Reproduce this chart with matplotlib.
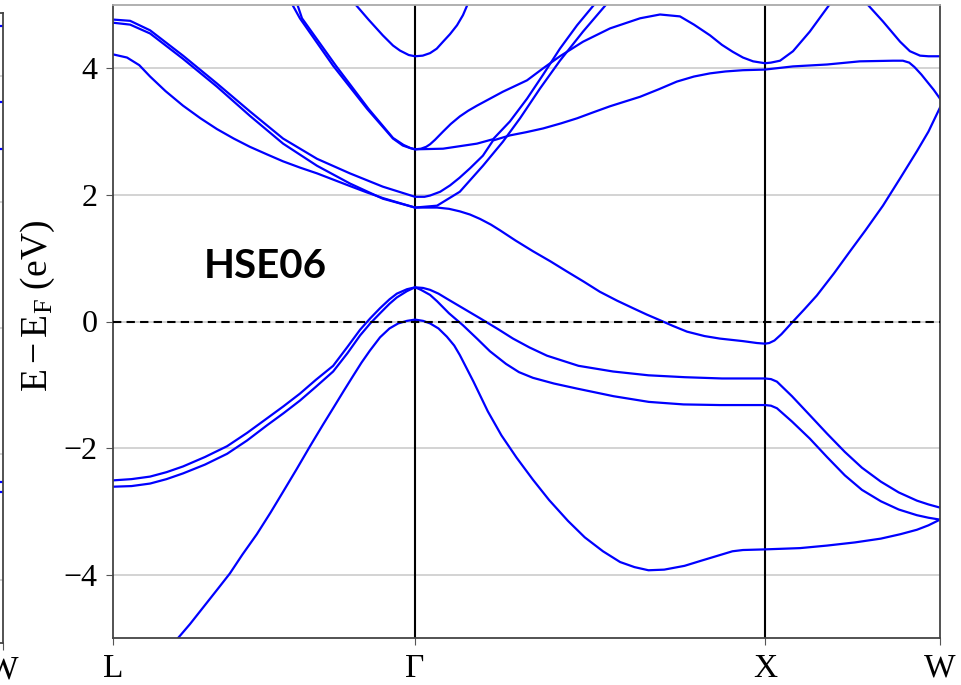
import matplotlib
matplotlib.use("Agg")
import matplotlib.pyplot as plt

plt.rcParams['font.family'] = 'Liberation Serif'
plt.rcParams['mathtext.fontset'] = 'custom'
plt.rcParams['mathtext.rm'] = 'Liberation Serif'
plt.rcParams['mathtext.it'] = 'Liberation Serif:italic'

# high-symmetry points along the path (units of 2pi/a)
kpath_labels = ['L', 'Γ', 'X', 'W']
kpath_pos = [0.0, 0.863, 1.863, 2.363]

# valence bands
k_v1 = [0.15, 0.186, 0.22, 0.26, 0.3, 0.334, 0.37, 0.411, 0.45, 0.486, 0.525, 0.563, 0.6, 0.629, 0.66,
        0.686, 0.71, 0.734, 0.763, 0.79, 0.815, 0.84, 0.863, 0.886, 0.906, 0.93, 0.954, 0.975, 0.991,
        1.03, 1.071, 1.11, 1.153, 1.2, 1.246, 1.3, 1.348, 1.4, 1.449, 1.49, 1.53, 1.575, 1.633, 1.68,
        1.734, 1.77, 1.8, 1.863, 1.963, 2.04, 2.12, 2.194, 2.25, 2.297, 2.33, 2.363]
e_v1 = [-5.25, -5.0, -4.78, -4.50, -4.22, -3.98, -3.68, -3.36, -3.02, -2.69, -2.33, -1.97, -1.63, -1.37,
        -1.09, -0.86, -0.65, -0.46, -0.25, -0.11, -0.03, 0.01, 0.03, 0.01, -0.03, -0.11, -0.24, -0.38,
        -0.53, -0.95, -1.42, -1.80, -2.15, -2.50, -2.82, -3.15, -3.41, -3.63, -3.80, -3.88, -3.93,
        -3.92, -3.86, -3.78, -3.69, -3.63, -3.61, -3.60, -3.58, -3.54, -3.49, -3.43, -3.36, -3.29,
        -3.22, -3.13]

k_v2 = [0.0, 0.053, 0.106, 0.153, 0.2, 0.263, 0.326, 0.383, 0.44, 0.487, 0.534, 0.58, 0.629, 0.67,
        0.706, 0.735, 0.763, 0.79, 0.811, 0.84, 0.863, 0.886, 0.906, 0.93, 0.954, 1.0, 1.049, 1.1,
        1.143, 1.19, 1.24, 1.33, 1.429, 1.53, 1.634, 1.74, 1.837, 1.863, 1.88, 1.897, 1.94, 1.991,
        2.04, 2.091, 2.14, 2.194, 2.245, 2.297, 2.33, 2.363]
e_v2 = [-2.51, -2.49, -2.45, -2.38, -2.29, -2.14, -1.97, -1.76, -1.53, -1.34, -1.14, -0.92, -0.70, -0.40,
        -0.13, 0.05, 0.21, 0.35, 0.44, 0.51, 0.54, 0.53, 0.50, 0.44, 0.36, 0.21, 0.05, -0.12,
        -0.27, -0.41, -0.54, -0.70, -0.79, -0.85, -0.88, -0.90, -0.90, -0.90, -0.91, -0.95, -1.18, -1.48,
        -1.77, -2.06, -2.31, -2.53, -2.70, -2.83, -2.89, -2.94]

k_v3 = [0.0, 0.053, 0.106, 0.153, 0.2, 0.263, 0.326, 0.383, 0.44, 0.487, 0.534, 0.58, 0.629, 0.67,
        0.706, 0.735, 0.763, 0.79, 0.811, 0.84, 0.863, 0.88, 0.906, 0.926, 0.96, 1.0, 1.04, 1.077,
        1.123, 1.16, 1.2, 1.26, 1.326, 1.43, 1.531, 1.63, 1.734, 1.863, 1.88, 1.897, 1.94, 1.991,
        2.04, 2.091, 2.14, 2.194, 2.245, 2.297, 2.33, 2.363]
e_v3 = [-2.61, -2.60, -2.56, -2.49, -2.40, -2.26, -2.09, -1.88, -1.64, -1.45, -1.25, -1.03, -0.79, -0.50,
        -0.22, -0.03, 0.13, 0.28, 0.38, 0.48, 0.54, 0.50, 0.42, 0.32, 0.13, -0.06, -0.27, -0.47,
        -0.67, -0.80, -0.89, -0.98, -1.06, -1.18, -1.27, -1.31, -1.32, -1.32, -1.33, -1.37, -1.58, -1.85,
        -2.14, -2.43, -2.66, -2.84, -2.97, -3.06, -3.10, -3.13]

# conduction bands
k_c1 = [0.0, 0.04, 0.075, 0.106, 0.15, 0.2, 0.25, 0.297, 0.345, 0.391, 0.44, 0.486, 0.535, 0.583,
        0.63, 0.677, 0.725, 0.771, 0.82, 0.863, 0.9, 0.926, 0.96, 0.991, 1.02, 1.049, 1.08, 1.106,
        1.15, 1.2, 1.25, 1.297, 1.345, 1.391, 1.44, 1.486, 1.525, 1.563, 1.6, 1.64, 1.69, 1.734,
        1.8, 1.84, 1.863, 1.875, 1.89, 1.91, 1.943, 1.975, 2.011, 2.06, 2.106, 2.15, 2.2, 2.25,
        2.297, 2.33, 2.363]
e_c1 = [4.22, 4.17, 4.05, 3.87, 3.64, 3.41, 3.21, 3.04, 2.89, 2.76, 2.64, 2.53, 2.43, 2.34,
        2.24, 2.14, 2.04, 1.95, 1.87, 1.80, 1.80, 1.80, 1.78, 1.74, 1.69, 1.62, 1.53, 1.44,
        1.28, 1.11, 0.95, 0.79, 0.63, 0.47, 0.33, 0.21, 0.11, 0.02, -0.07, -0.16, -0.23, -0.27,
        -0.31, -0.34, -0.35, -0.34, -0.30, -0.20, 0.0, 0.19, 0.41, 0.76, 1.11, 1.44, 1.83, 2.27,
        2.69, 3.0, 3.38]

k_c2 = [0.0, 0.049, 0.106, 0.2, 0.297, 0.391, 0.486, 0.583, 0.677, 0.771, 0.863, 0.89, 0.906, 0.935,
        0.963, 0.99, 1.02, 1.057, 1.086, 1.134, 1.18, 1.229, 1.28, 1.326, 1.37, 1.42, 1.46, 1.506,
        1.56, 1.611, 1.66, 1.706, 1.75, 1.8, 1.863, 1.943, 2.04, 2.134, 2.229, 2.257, 2.275, 2.29,
        2.31, 2.326, 2.345, 2.363]
e_c2 = [4.77, 4.75, 4.60, 4.20, 3.76, 3.32, 2.89, 2.57, 2.34, 2.13, 1.97, 1.97, 1.99, 2.05,
        2.15, 2.27, 2.42, 2.62, 2.86, 2.94, 2.99, 3.05, 3.13, 3.21, 3.30, 3.40, 3.47, 3.55,
        3.67, 3.79, 3.87, 3.92, 3.95, 3.97, 3.98, 4.03, 4.06, 4.11, 4.12, 4.12, 4.09, 4.02,
        3.90, 3.79, 3.66, 3.52]

k_c3 = [0.0, 0.049, 0.106, 0.2, 0.297, 0.391, 0.486, 0.583, 0.677, 0.771, 0.863, 0.926, 0.991, 1.057,
        1.114, 1.163, 1.22, 1.277, 1.343, 1.411, 1.45]
e_c3 = [4.72, 4.69, 4.55, 4.15, 3.71, 3.25, 2.81, 2.46, 2.18, 1.94, 1.80, 1.83, 2.05, 2.46,
        2.84, 3.21, 3.68, 4.12, 4.58, 5.02, 5.3]

k_c4 = [0.505, 0.526, 0.54, 0.637, 0.73, 0.8, 0.83, 0.85, 0.863, 0.943, 1.04, 1.086, 1.134, 1.183,
        1.229, 1.277, 1.326, 1.377, 1.41]
e_c4 = [5.3, 5.02, 4.79, 4.04, 3.36, 2.90, 2.79, 2.74, 2.72, 2.73, 2.81, 2.88, 3.16, 3.52,
        3.90, 4.31, 4.68, 5.02, 5.3]

k_c5 = [0.49, 0.511, 0.534, 0.629, 0.726, 0.8, 0.828, 0.849, 0.863, 0.88, 0.895, 0.906, 0.92, 0.943,
        0.965, 0.991, 1.015, 1.04, 1.114, 1.183, 1.229, 1.277, 1.343, 1.42, 1.506, 1.563, 1.62, 1.66,
        1.706, 1.74, 1.771, 1.8, 1.829, 1.863, 1.88, 1.906, 1.943, 1.991, 2.049, 2.08]
e_c5 = [5.3, 5.02, 4.79, 4.04, 3.36, 2.89, 2.78, 2.74, 2.72, 2.73, 2.76, 2.80, 2.87, 3.0,
        3.12, 3.24, 3.33, 3.41, 3.63, 3.81, 4.0, 4.19, 4.42, 4.63, 4.79, 4.85, 4.82, 4.69,
        4.52, 4.37, 4.26, 4.17, 4.11, 4.08, 4.09, 4.12, 4.27, 4.58, 5.02, 5.3]

k_c6 = [0.67, 0.691, 0.73, 0.771, 0.8, 0.82, 0.845, 0.863, 0.885, 0.906, 0.925, 0.943, 0.963, 0.983,
        1.0, 1.014, 1.03]
e_c6 = [5.35, 5.02, 4.77, 4.52, 4.36, 4.28, 4.21, 4.19, 4.20, 4.24, 4.31, 4.42, 4.54, 4.68,
        4.84, 5.02, 5.3]

k_c7 = [2.14, 2.154, 2.2, 2.249, 2.277, 2.306, 2.33, 2.363]
e_c7 = [5.3, 5.02, 4.74, 4.42, 4.27, 4.20, 4.19, 4.19]

bands = [(k_v1, e_v1), (k_v2, e_v2), (k_v3, e_v3), (k_c1, e_c1), (k_c2, e_c2),
         (k_c3, e_c3), (k_c4, e_c4), (k_c5, e_c5), (k_c6, e_c6), (k_c7, e_c7)]

# neighbouring panel, only its W end shows
side_k = [0.9, 1.0]
side_levels = [4.79, 3.59, 2.84, -2.44, -2.60]

fig = plt.figure(figsize=(9.61, 6.85), dpi=100)

# neighbouring panel
axs = fig.add_axes([-0.9, 0.0613, 0.9031, 0.9197])
axs.set_xlim(0, 1)
axs.set_ylim(-5, 5)
axs.set_yticks([-4, -2, 0, 2, 4])
axs.set_yticklabels([])
axs.grid(axis='y', color='#c8c8c8', lw=1.1)
for lev in side_levels:
    axs.plot(side_k, [lev, lev], color='blue', lw=1.6)
axs.set_xticks([1.0])
axs.set_xticklabels(['W'], fontsize=24)
axs.tick_params(length=5, color='#555555')
for s in axs.spines.values():
    s.set_color('#444444')
    s.set_linewidth(1.3)

# main panel
ax = fig.add_axes([113 / 961, 47 / 685, 827 / 961, 633 / 685])
ax.set_xlim(kpath_pos[0], kpath_pos[-1])
ax.set_ylim(-5, 5)
ax.set_yticks([-4, -2, 0, 2, 4])
ax.set_yticklabels(['−4', '−2', '0', '2', '4'], fontsize=23)
ax.set_xticks(kpath_pos)
ax.set_xticklabels(kpath_labels, fontsize=24)
ax.tick_params(length=5, color='#555555', pad=6)
ax.grid(axis='y', color='#c8c8c8', lw=1.1)
ax.set_axisbelow(True)

for kv in kpath_pos[1:-1]:
    ax.axvline(kv, color='black', lw=1.5, zorder=1)
ax.axhline(0, color='black', lw=1.5, linestyle=(0, (4, 2.5)), zorder=3)

for kk, ee in bands:
    ax.plot(kk, ee, color='blue', lw=1.6, zorder=2)

ax.set_ylabel(r'$\mathrm{E - E_F}$ (eV)', fontsize=27)
ax.yaxis.set_label_coords(-0.068, 0.524)

ax.text(0.434, 0.87, 'HSE06', family='Lato', fontweight='bold', fontsize=29,
        ha='center', va='center')

for name, s in ax.spines.items():
    s.set_color('#444444')
    s.set_linewidth(1.3)
ax.spines['top'].set_color('#aaaaaa')

fig.savefig('out.png', dpi=100)
